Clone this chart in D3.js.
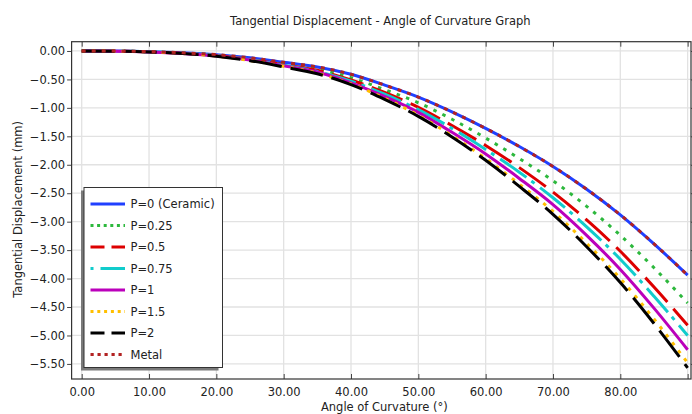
<!DOCTYPE html>
<html>
<head>
<meta charset="utf-8">
<script src="https://cdn.jsdelivr.net/npm/d3@7"></script>
<style>
  body { margin: 0; background: #fff; }
  text { font-family: "DejaVu Sans", sans-serif; fill: #222; }
</style>
</head>
<body>
<svg id="chart" width="692" height="414"></svg>
<script>
// angle of curvature (deg), every 5 degrees
var angles = [0, 5, 10, 15, 20, 25, 30, 35, 40, 45, 50, 55, 60, 65, 70, 75, 80, 85, 90];

// tangential displacement (mm)
var p0    = [0, -0.002, -0.012, -0.032, -0.065, -0.12, -0.20, -0.28, -0.41, -0.60, -0.81, -1.07, -1.36, -1.68, -2.03, -2.43, -2.88, -3.39, -3.94];
var p025  = [0, -0.002, -0.014, -0.036, -0.073, -0.135, -0.22, -0.32, -0.47, -0.68, -0.91, -1.20, -1.53, -1.89, -2.28, -2.73, -3.24, -3.81, -4.43];
var p05   = [0, -0.002, -0.015, -0.039, -0.080, -0.147, -0.24, -0.34, -0.51, -0.73, -0.99, -1.31, -1.66, -2.05, -2.48, -2.97, -3.52, -4.15, -4.82];
var p075  = [0, -0.003, -0.015, -0.041, -0.083, -0.152, -0.25, -0.36, -0.53, -0.76, -1.03, -1.36, -1.73, -2.13, -2.58, -3.09, -3.66, -4.31, -5.00];
var p1    = [0, -0.003, -0.016, -0.043, -0.087, -0.160, -0.26, -0.37, -0.56, -0.80, -1.08, -1.43, -1.81, -2.24, -2.70, -3.24, -3.84, -4.52, -5.25];
var p15   = [0, -0.003, -0.017, -0.044, -0.090, -0.167, -0.27, -0.39, -0.58, -0.83, -1.13, -1.49, -1.89, -2.34, -2.82, -3.38, -4.00, -4.71, -5.48];
var p2    = [0, -0.003, -0.017, -0.045, -0.092, -0.170, -0.28, -0.40, -0.59, -0.85, -1.15, -1.51, -1.92, -2.38, -2.87, -3.44, -4.07, -4.79, -5.57];
var metal = [0, -0.002, -0.012, -0.032, -0.065, -0.12, -0.20, -0.28, -0.41, -0.60, -0.81, -1.07, -1.36, -1.68, -2.03, -2.43, -2.88, -3.39, -3.94];

var seriesNames = ["P=0 (Ceramic)", "P=0.25", "P=0.5", "P=0.75", "P=1", "P=1.5", "P=2", "Metal"];
var seriesValues = [p0, p025, p05, p075, p1, p15, p2, metal];

var xTicks = [0, 10, 20, 30, 40, 50, 60, 70, 80, 90];
var xTickLabels = ["0.00", "10.00", "20.00", "30.00", "40.00", "50.00", "60.00", "70.00", "80.00", ""];
var yTicks = [0, -0.5, -1, -1.5, -2, -2.5, -3, -3.5, -4, -4.5, -5, -5.5];

// line styles: colour, dash in plot, dash in legend
var styles = [
    {color: "#2040ff", dash: null, legendDash: null},
    {color: "#2db83d", dash: "3.5,6.5", legendDash: "3,3.6"},
    {color: "#dd0000", dash: "33,9", legendDash: "14,7"},
    {color: "#11cccc", dash: "32,6,4,7", legendDash: "0,0,3,7,25,6"},
    {color: "#bb00bb", dash: null, legendDash: null},
    {color: "#ffbf00", dash: "3.5,6.5", legendDash: "3,3.8"},
    {color: "#000000", dash: "33,9", legendDash: "14,7"},
    {color: "#b22222", dash: "4,6", legendDash: "3.2,3.8"}
];

var svg = d3.select('#chart');

var plotLeft = 71.6, plotRight = 691, plotTop = 41.7, plotBottom = 379;

var x = d3.scaleLinear().domain([-1.5, 90.5]).range([plotLeft, plotRight]);
var y = d3.scaleLinear().domain([-5.765, 0.163]).range([plotBottom, plotTop]);

// title
svg.append('text')
    .attr('x', (plotLeft + plotRight) / 2 - 1)
    .attr('y', 25)
    .attr('text-anchor', 'middle')
    .style('font-size', '11.5px')
    .text('Tangential Displacement - Angle of Curvature Graph');

// gridlines
svg.append('g').selectAll('line')
    .data(xTicks)
    .enter().append('line')
    .attr('x1', function(d){ return x(d); })
    .attr('x2', function(d){ return x(d); })
    .attr('y1', plotTop).attr('y2', plotBottom)
    .attr('stroke', '#e2e2e2').attr('stroke-width', 1.3);

svg.append('g').selectAll('line')
    .data(yTicks)
    .enter().append('line')
    .attr('y1', function(d){ return y(d); })
    .attr('y2', function(d){ return y(d); })
    .attr('x1', plotLeft).attr('x2', plotRight)
    .attr('stroke', '#e2e2e2').attr('stroke-width', 1.3);

// curves
svg.append('clipPath').attr('id', 'clip')
    .append('rect')
    .attr('x', plotLeft).attr('y', plotTop)
    .attr('width', plotRight - plotLeft).attr('height', plotBottom - plotTop);

var line = d3.line()
    .x(function(d){ return x(d[0]); })
    .y(function(d){ return y(d[1]); })
    .curve(d3.curveMonotoneX);

svg.append('g')
    .attr('clip-path', 'url(#clip)')
    .selectAll('path')
    .data(seriesValues)
    .enter().append('path')
    .attr('d', function(vals){ return line(angles.map(function(a, i){ return [a, vals[i]]; })); })
    .attr('fill', 'none')
    .attr('stroke', function(d, i){ return styles[i].color; })
    .attr('stroke-width', 3)
    .attr('stroke-dasharray', function(d, i){ return styles[i].dash; });

// axes
var xAxisBottom = d3.axisBottom(x).tickValues(xTicks)
    .tickFormat(function(d, i){ return xTickLabels[i]; })
    .tickSizeInner(-5).tickSizeOuter(0).tickPadding(8.5);
var xAxisTop = d3.axisTop(x).tickValues(xTicks).tickFormat('')
    .tickSizeInner(-5).tickSizeOuter(0);
var yAxisLeft = d3.axisLeft(y).tickValues(yTicks)
    .tickFormat(d3.format('.2f'))
    .tickSizeInner(4.5).tickSizeOuter(0).tickPadding(2);
var yAxisRight = d3.axisRight(y).tickValues(yTicks).tickFormat('')
    .tickSizeInner(4).tickSizeOuter(0);

function styleAxis(g){
    g.select('.domain').remove();
    g.selectAll('.tick line').attr('stroke', '#444');
    g.selectAll('.tick text')
        .style('font-family', '"DejaVu Sans", sans-serif')
        .style('font-size', '11.5px')
        .attr('fill', '#222');
}

svg.append('g').attr('transform', `translate(0,${plotBottom})`).call(xAxisBottom).call(styleAxis);
svg.append('g').attr('transform', `translate(0,${plotTop})`).call(xAxisTop).call(styleAxis);
svg.append('g').attr('transform', `translate(${plotLeft},0)`).call(yAxisLeft).call(styleAxis);
svg.append('g').attr('transform', `translate(${plotRight},0)`).call(yAxisRight).call(styleAxis);

// frame
svg.append('rect')
    .attr('x', plotLeft).attr('y', plotTop)
    .attr('width', plotRight - plotLeft).attr('height', plotBottom - plotTop)
    .attr('fill', 'none').attr('stroke', '#333').attr('stroke-width', 1.2);

// axis titles
svg.append('text')
    .attr('x', (plotLeft + plotRight) / 2 + 3)
    .attr('y', 411)
    .attr('text-anchor', 'middle')
    .style('font-size', '11.5px')
    .text('Angle of Curvature (°)');

svg.append('text')
    .attr('transform', `translate(21.5, ${(plotTop + plotBottom) / 2 - 1}) rotate(-90)`)
    .attr('text-anchor', 'middle')
    .style('font-size', '11.5px')
    .text('Tangential Displacement (mm)');

// legend
var lx = 84, ly = 187.5, lw = 138.5, lh = 180, rowH = 21.5;
var legend = svg.append('g');

legend.append('rect')
    .attr('x', lx - 3).attr('y', ly + 3)
    .attr('width', lw - 1).attr('height', lh)
    .attr('fill', '#7a7a7a');

legend.append('rect')
    .attr('x', lx).attr('y', ly)
    .attr('width', lw).attr('height', lh)
    .attr('fill', '#fff').attr('stroke', '#333').attr('stroke-width', 1);

var rows = legend.selectAll('.row')
    .data(seriesNames)
    .enter().append('g')
    .attr('class', 'row')
    .attr('transform', function(d, i){ return `translate(0, ${ly + 16.5 + i * rowH})`; });

rows.append('line')
    .attr('x1', 90.5).attr('x2', 125)
    .attr('y1', 0).attr('y2', 0)
    .attr('stroke', function(d, i){ return styles[i].color; })
    .attr('stroke-width', 3)
    .attr('stroke-dasharray', function(d, i){ return styles[i].legendDash; });

rows.append('text')
    .attr('x', 130.5)
    .attr('y', 4)
    .style('font-size', '11.5px')
    .text(function(d){ return d; });
</script>
</body>
</html>
